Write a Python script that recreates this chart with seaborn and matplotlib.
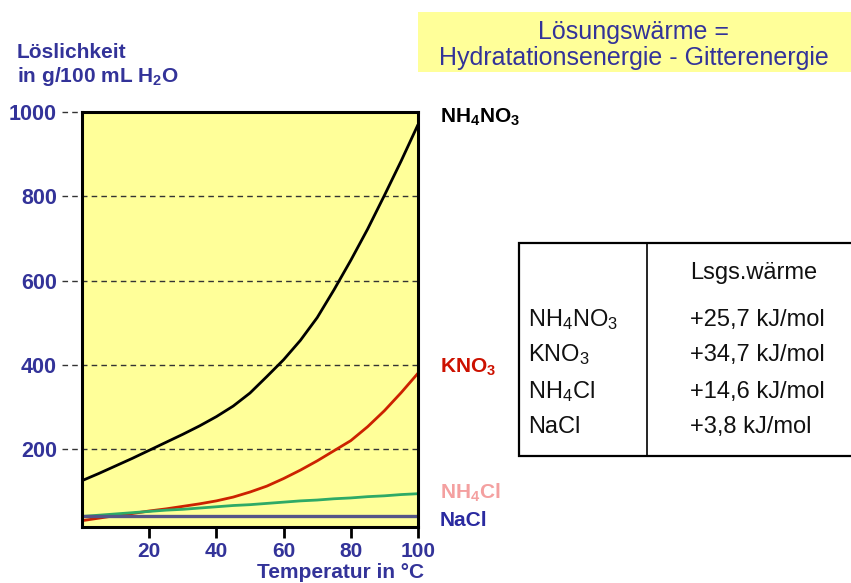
import matplotlib
matplotlib.use("Agg")
import matplotlib.pyplot as plt
from matplotlib.patches import Rectangle
from matplotlib.lines import Line2D
import pandas as pd
import seaborn as sns

# Löslichkeit in g/100 mL H2O über der Temperatur (in 5-°C-Schritten)
temperatures = [0, 5, 10, 15, 20, 25, 30, 35, 40, 45, 50,
                55, 60, 65, 70, 75, 80, 85, 90, 95, 100]
nh4no3 = [125, 142, 160, 178, 197, 216, 235, 255, 277, 302, 333,
          372, 412, 458, 512, 578, 648, 722, 802, 884, 970]
kno3 = [30, 36, 42, 47, 53, 58, 64, 70, 77, 86, 98,
        112, 130, 150, 172, 196, 220, 253, 291, 334, 380]
nh4cl = [40, 43, 46, 49, 52, 55, 57, 60, 63, 66, 68,
         71, 74, 77, 79, 82, 84, 87, 89, 92, 94]
nacl = [42] * len(temperatures)

salts = ["NH4NO3", "KNO3", "NH4Cl", "NaCl"]
salt_labels = [r"NH$_4$NO$_3$", r"KNO$_3$", r"NH$_4$Cl", "NaCl"]
heat_values = ["+25,7 kJ/mol", "+34,7 kJ/mol", "+14,6 kJ/mol", "+3,8 kJ/mol"]

y_ticks = [200, 400, 600, 800, 1000]
x_ticks = [20, 40, 60, 80, 100]

sns.set_theme(style="white")
plt.rcParams["font.family"] = ["Liberation Sans", "DejaVu Sans"]
plt.rcParams["mathtext.default"] = "regular"

BLUE = "#333399"
YELLOW = "#ffff99"
colors = {"NH4NO3": "#000000", "KNO3": "#cc2200", "NH4Cl": "#2eaa66", "NaCl": "#555588"}

df = pd.DataFrame({"T": temperatures, "NH4NO3": nh4no3, "KNO3": kno3,
                   "NH4Cl": nh4cl, "NaCl": nacl})
long = df.melt(id_vars="T", var_name="Salz", value_name="L")

W, H = 851, 583
fig = plt.figure(figsize=(W / 100, H / 100), dpi=100)
fig.patch.set_facecolor("white")


def fx(px):
    return px / W


def fy(py):
    return 1 - py / H


ax = fig.add_axes([fx(82), fy(527), (418 - 82) / W, (527 - 112) / H])
ax.set_facecolor(YELLOW)

for yv in y_ticks[:-1]:
    ax.axhline(yv, xmin=-0.06, xmax=1, color="#333333", lw=1.0,
               ls=(0, (4, 3)), clip_on=False, zorder=1)
ax.axhline(1000, xmin=-0.06, xmax=0, color="#333333", lw=1.0,
           ls=(0, (4, 3)), clip_on=False, zorder=1)

sns.lineplot(data=long, x="T", y="L", hue="Salz", hue_order=salts,
             palette=colors, ax=ax, legend=False, lw=2.0, zorder=3)
ax.lines[-1].set_linewidth(2.4)

ax.set_xlim(0, 100)
ax.set_ylim(15, 1000)
ax.set_xticks(x_ticks)
ax.set_xticklabels([str(v) for v in x_ticks])
ax.set_yticks(y_ticks)
ax.set_yticklabels([str(v) for v in y_ticks])
ax.tick_params(axis="x", direction="out", length=8, width=2, color="black",
               pad=3, labelsize=15, labelcolor=BLUE, bottom=True)
ax.tick_params(axis="y", length=0, pad=18, labelsize=15.5, labelcolor=BLUE)
for lab in ax.get_xticklabels() + ax.get_yticklabels():
    lab.set_fontweight("bold")
ax.set_xlabel("")
ax.set_ylabel("")
for sp in ax.spines.values():
    sp.set_visible(True)
    sp.set_color("black")
    sp.set_linewidth(2.2)
    sp.set_zorder(5)

# Achsenbeschriftungen
fig.text(fx(17), fy(52), "Löslichkeit", ha="left", va="center",
         fontsize=15, fontweight="bold", color=BLUE)
fig.text(fx(17), fy(77), r"in g/100 mL H$_2$O", ha="left", va="center",
         fontsize=15, fontweight="bold", color=BLUE)
fig.text(fx(424), fy(572), "Temperatur in °C", ha="right", va="center",
         fontsize=15, fontweight="bold", color=BLUE)

# Kurvenbeschriftungen rechts
label_specs = [
    (r"NH$_4$NO$_3$", 117, "#000000"),
    (r"KNO$_3$", 367, "#cc1100"),
    (r"NH$_4$Cl", 493, "#f4a0a0"),
    ("NaCl", 520, "#2a2aa0"),
]
for txt, py, col in label_specs:
    fig.text(fx(440), fy(py), txt, ha="left", va="center", fontsize=15,
             fontweight="bold", color=col)

# Überschrift im gelben Feld
fig.patches.append(Rectangle((fx(418), fy(72)), fx(851 - 418), (72 - 12) / H,
                             transform=fig.transFigure, facecolor=YELLOW,
                             edgecolor="none", zorder=0))
fig.text(fx(634), fy(32), "Lösungswärme =", ha="center", va="center",
         fontsize=18, color=BLUE)
fig.text(fx(634), fy(58), "Hydratationsenergie - Gitterenergie", ha="center",
         va="center", fontsize=18, color=BLUE)

# Tabelle der Lösungswärmen
fig.patches.append(Rectangle((fx(519), fy(456)), fx(851 - 519 + 10), (456 - 243) / H,
                             transform=fig.transFigure, facecolor="white",
                             edgecolor="black", lw=1.6, zorder=1))
fig.lines.append(Line2D([fx(647), fx(647)], [fy(243), fy(456)],
                        transform=fig.transFigure, color="black", lw=1.2))
fig.text(fx(690), fy(273), "Lsgs.wärme", ha="left", va="center",
         fontsize=17, color="#111111")
row_y = [320, 355, 392, 427]
for lab, val, py in zip(salt_labels, heat_values, row_y):
    fig.text(fx(528), fy(py), lab, ha="left", va="center", fontsize=17,
             color="#111111")
    fig.text(fx(690), fy(py), val, ha="left", va="center", fontsize=17,
             color="#111111")

fig.savefig("out.png", dpi=100, facecolor="white")
